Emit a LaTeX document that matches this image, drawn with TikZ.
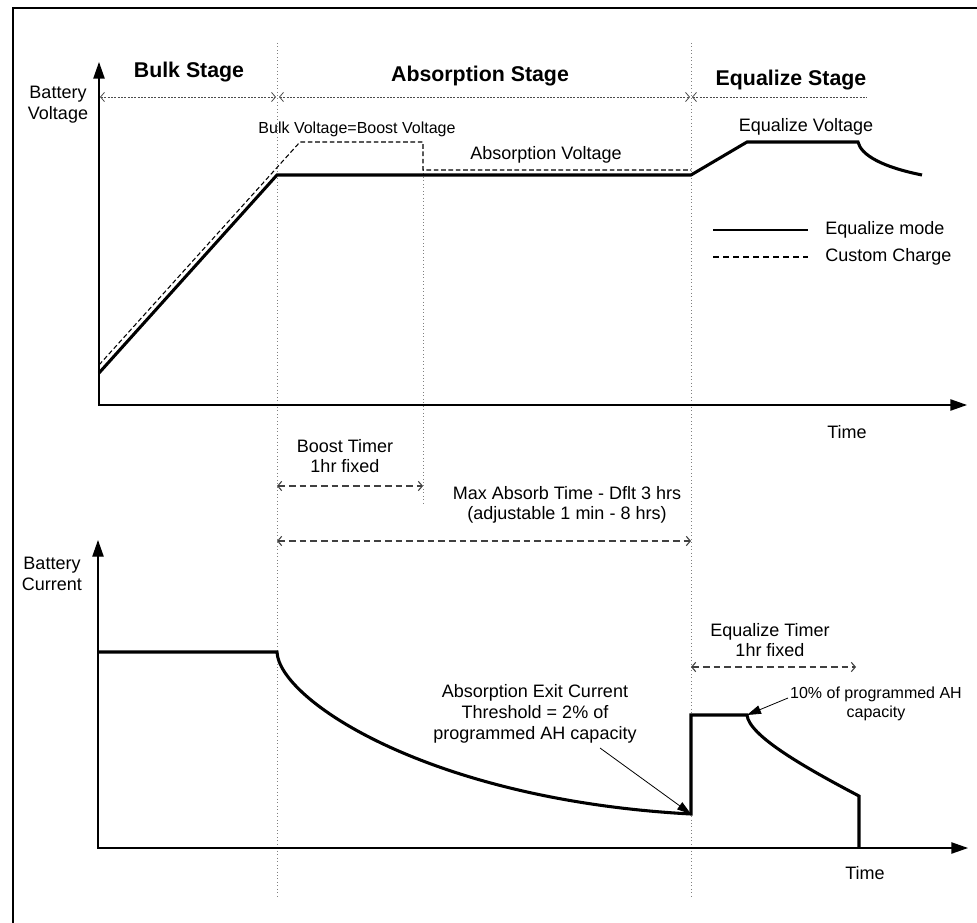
\documentclass[tikz,border=0pt]{standalone}
\usepackage{fontspec}
\setmainfont{Liberation Sans}
\usetikzlibrary{arrows.meta}

\tikzset{
  barb/.tip={Straight Barb[length=3pt,width=7pt]},
  lbl/.style={inner sep=0pt,align=center,font=\fontsize{13.5}{15.5}\selectfont},
  smalllbl/.style={inner sep=0pt,align=center,font=\fontsize{12}{14.3}\selectfont},
  stagetitle/.style={inner sep=0pt,font=\fontsize{16}{19}\selectfont\bfseries},
  axisline/.style={line width=1pt,{Triangle[length=12.5pt,width=8.5pt]}-{Triangle[length=12.5pt,width=8.5pt]}},
  graph/.style={line width=2.3pt,line join=miter},
  customline/.style={line width=0.8pt,dash pattern=on 3.5pt off 2pt},
  markline/.style={gray,dotted,line width=0.6pt},
  stagespan/.style={gray!60!black,line width=0.6pt,dash pattern=on 1.5pt off 1pt,barb-barb},
  timerspan/.style={black!75,line width=0.8pt,dash pattern=on 5pt off 3pt,barb-barb},
  callout/.style={line width=0.6pt,-{Triangle[length=10.5pt,width=6.5pt]}}
}

\begin{document}
\begin{tikzpicture}[x=0.75pt,y=-0.75pt]
\useasboundingbox (0,0) rectangle (977,923);
\def\dimline#1#2#3{\draw[#3] (#1) -- (#2);}

% frame, cut at the right and bottom
\coordinate (fbl) at (13,923); \coordinate (ftl) at (13,8); \coordinate (ftr) at (977,8);
\draw[line width=1.8pt] (fbl) -- (ftl) -- (ftr);

% stage borders
\coordinate (m1t) at (277,43); \coordinate (m1b) at (277,898);
\coordinate (m2t) at (691,43); \coordinate (m2b) at (691,898);
\coordinate (m3t) at (423,170); \coordinate (m3b) at (423,505);
\draw[markline] (m1t) -- (m1b);
\draw[markline] (m2t) -- (m2b);
\draw[markline] (m3t) -- (m3b);

% stage titles and spans
\node[stagetitle] at (189,72) (bulk) {Bulk Stage};
\node[stagetitle] at (480,76) (absorb) {Absorption Stage};
\node[stagetitle] at (791,80) (equal) {Equalize Stage};
\coordinate (b1l) at (100,97); \coordinate (b1r) at (276,97);
\coordinate (a1l) at (279,97); \coordinate (a1r) at (690,97);
\coordinate (e1l) at (692,97); \coordinate (e1r) at (867,97);
\dimline{b1l}{b1r}{stagespan}
\dimline{a1l}{a1r}{stagespan}
\dimline{e1l}{e1r}{stagespan,barb-}

% voltage axes
\coordinate (vy) at (99,62); \coordinate (vo) at (99,405); \coordinate (vx) at (967,405);
\draw[axisline] (vy) -- (vo) -- (vx);
\node[lbl] at (58,105) (vlabel) {Battery\\Voltage};
\node[lbl] at (847,432) (vtime) {Time};

% voltage, equalize mode
\coordinate (v0) at (99,373); \coordinate (v1) at (277,175); \coordinate (v2) at (691,175);
\coordinate (v3) at (747,142); \coordinate (v4) at (858,142); \coordinate (v5) at (922,175);
\draw[graph] (v0) -- (v1) -- (v2) -- (v3) -- (v4) .. controls (861,155) and (882,167) .. (v5);

% voltage, custom charge
\coordinate (d0) at (99,365); \coordinate (d1) at (300,142); \coordinate (d2) at (423,142);
\coordinate (d3) at (423,170); \coordinate (d4) at (691,170);
\draw[customline] (d0) -- (d1) -- (d2) -- (d3) -- (d4);

\node[smalllbl] at (357,129) (bvolt) {Bulk Voltage=Boost Voltage};
\node[lbl] at (546,155) (avolt) {Absorption Voltage};
\node[lbl] at (806,127) (evolt) {Equalize Voltage};

% legend
\coordinate (l1a) at (713,230); \coordinate (l1b) at (808,230);
\coordinate (l2a) at (713,257); \coordinate (l2b) at (808,257);
\draw[graph,line width=2pt] (l1a) -- (l1b);
\draw[customline,dash pattern=on 4.5pt off 3pt] (l2a) -- (l2b);
\node[lbl,anchor=west] at (825,230) (leg1) {Equalize mode};
\node[lbl,anchor=west] at (825,257) (leg2) {Custom Charge};

% timers
\node[lbl] at (345,456) (boost) {Boost Timer\\1hr fixed};
\coordinate (bt1) at (277,486); \coordinate (bt2) at (423,486);
\dimline{bt1}{bt2}{timerspan}
\node[lbl] at (567,505) (maxabs) {Max Absorb Time - Dflt 3 hrs\\(adjustable 1 min - 8 hrs)};
\coordinate (ma1) at (277,541); \coordinate (ma2) at (691,541);
\dimline{ma1}{ma2}{timerspan}
\node[lbl] at (770,640) (eqtimer) {Equalize Timer\\1hr fixed};
\coordinate (et1) at (691,667); \coordinate (et2) at (856,667);
\dimline{et1}{et2}{timerspan}

% current axes
\coordinate (cy) at (98,540); \coordinate (co) at (98,848); \coordinate (cx) at (968,848);
\draw[axisline] (cy) -- (co) -- (cx);
\node[lbl] at (52,574) (clabel) {Battery\\Current};
\node[lbl] at (865,873) (ctime) {Time};

% current, equalize mode
\coordinate (c0) at (98,652); \coordinate (c1) at (277,652); \coordinate (c2) at (691,814);
\coordinate (c3) at (691,715); \coordinate (c4) at (747,715); \coordinate (c5) at (859,796);
\coordinate (c6) at (859,848);
\draw[graph] (c0) -- (c1) .. controls (279,700) and (430,800) .. (c2) -- (c3) -- (c4)
  .. controls (749,735) and (800,765) .. (c5) -- (c6);

% callouts
\node[lbl] at (535,714) (exitcur) {Absorption Exit Current\\Threshold = 2\% of\\programmed AH capacity};
\coordinate (exitptr) at (600,748);
\draw[callout] (exitptr) -- (c2);
\node[smalllbl] at (876,704) (tenpct) {10\% of programmed AH\\capacity};
\coordinate (tenptr) at (788,698);
\draw[callout] (tenptr) -- (c4);
\end{tikzpicture}
\end{document}
